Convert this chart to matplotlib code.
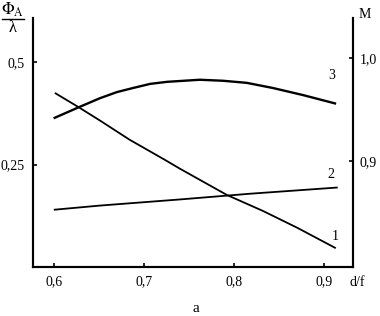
import matplotlib
matplotlib.use("Agg")
import matplotlib.pyplot as plt
from matplotlib.lines import Line2D

# curve 1 (left axis, Phi_A / lambda)
x1 = [0.602, 0.627, 0.651, 0.684, 0.723, 0.740, 0.792, 0.832, 0.870, 0.912]
y1 = [0.424, 0.391, 0.358, 0.311, 0.262, 0.240, 0.176, 0.137, 0.096, 0.047]
# curve 2 (left axis)
x2 = [0.601, 0.651, 0.740, 0.818, 0.914]
y2 = [0.140, 0.150, 0.165, 0.179, 0.194]
# curve 3 (right axis, M)
x3 = [0.601, 0.627, 0.651, 0.670, 0.688, 0.707, 0.726, 0.762, 0.788, 0.814, 0.843, 0.877, 0.912]
y3 = [0.942, 0.952, 0.961, 0.967, 0.971, 0.975, 0.977, 0.979, 0.978, 0.976, 0.971, 0.964, 0.956]

xticks = [0.6, 0.7, 0.8, 0.9]
xlabels = ["0,6", "0,7", "0,8", "0,9"]
lticks = [0.25, 0.5]
llabels = ["0,25", "0,5"]
rticks = [0.9, 1.0]
rlabels = ["0,9", "1,0"]

plt.rcParams["font.family"] = ["Liberation Serif", "DejaVu Serif"]
plt.rcParams["mathtext.fontset"] = "stix"

fig = plt.figure(figsize=(3.8, 3.16), dpi=100)
ax = fig.add_axes([0.087, 0.155, 0.842, 0.788])
ax2 = ax.twinx()

ax.plot(x1, y1, color="black", lw=1.3)
ax.plot(x2, y2, color="black", lw=1.3)
ax2.plot(x3, y3, color="black", lw=1.7)

ax.set_xlim(0.577, 0.932)
ax.set_ylim(0.0, 0.608)
ax2.set_ylim(0.797, 1.039)

for a in (ax, ax2):
    a.spines["top"].set_visible(False)
    for s in ("left", "right", "bottom"):
        a.spines[s].set_linewidth(1.5)

ax.set_xticks(xticks)
ax.set_xticklabels(xlabels)
ax.set_yticks(lticks)
ax.set_yticklabels(llabels)
ax2.set_yticks(rticks)
ax2.set_yticklabels(rlabels)
ax.tick_params(direction="in", length=3, width=1.2, labelsize=10, pad=6)
ax2.tick_params(direction="in", length=3, width=1.2, labelsize=10, pad=5)

ax.text(0.912, 0.074, "1", fontsize=10, ha="center", va="center")
ax.text(0.907, 0.225, "2", fontsize=10, ha="center", va="center")
ax2.text(0.908, 0.983, "3", fontsize=10, ha="center", va="center")

fig.text(357 / 380, 1 - 283 / 316, "d/f", fontsize=10, ha="center", va="center")
fig.text(196 / 380, 1 - 309 / 316, "a", fontsize=11, ha="center", va="center")
fig.text(365 / 380, 1 - 14 / 316, "M", fontsize=10, ha="center", va="center")
fig.text(13 / 380, 1 - 10 / 316, r"$\Phi_{\mathrm{A}}$", fontsize=12, ha="center", va="center")
fig.add_artist(Line2D([2 / 380, 24 / 380], [1 - 19 / 316, 1 - 19 / 316], color="black", lw=1.0))
fig.text(13 / 380, 1 - 28 / 316, "λ", fontsize=12, ha="center", va="center")

fig.savefig("out.png", dpi=100)
